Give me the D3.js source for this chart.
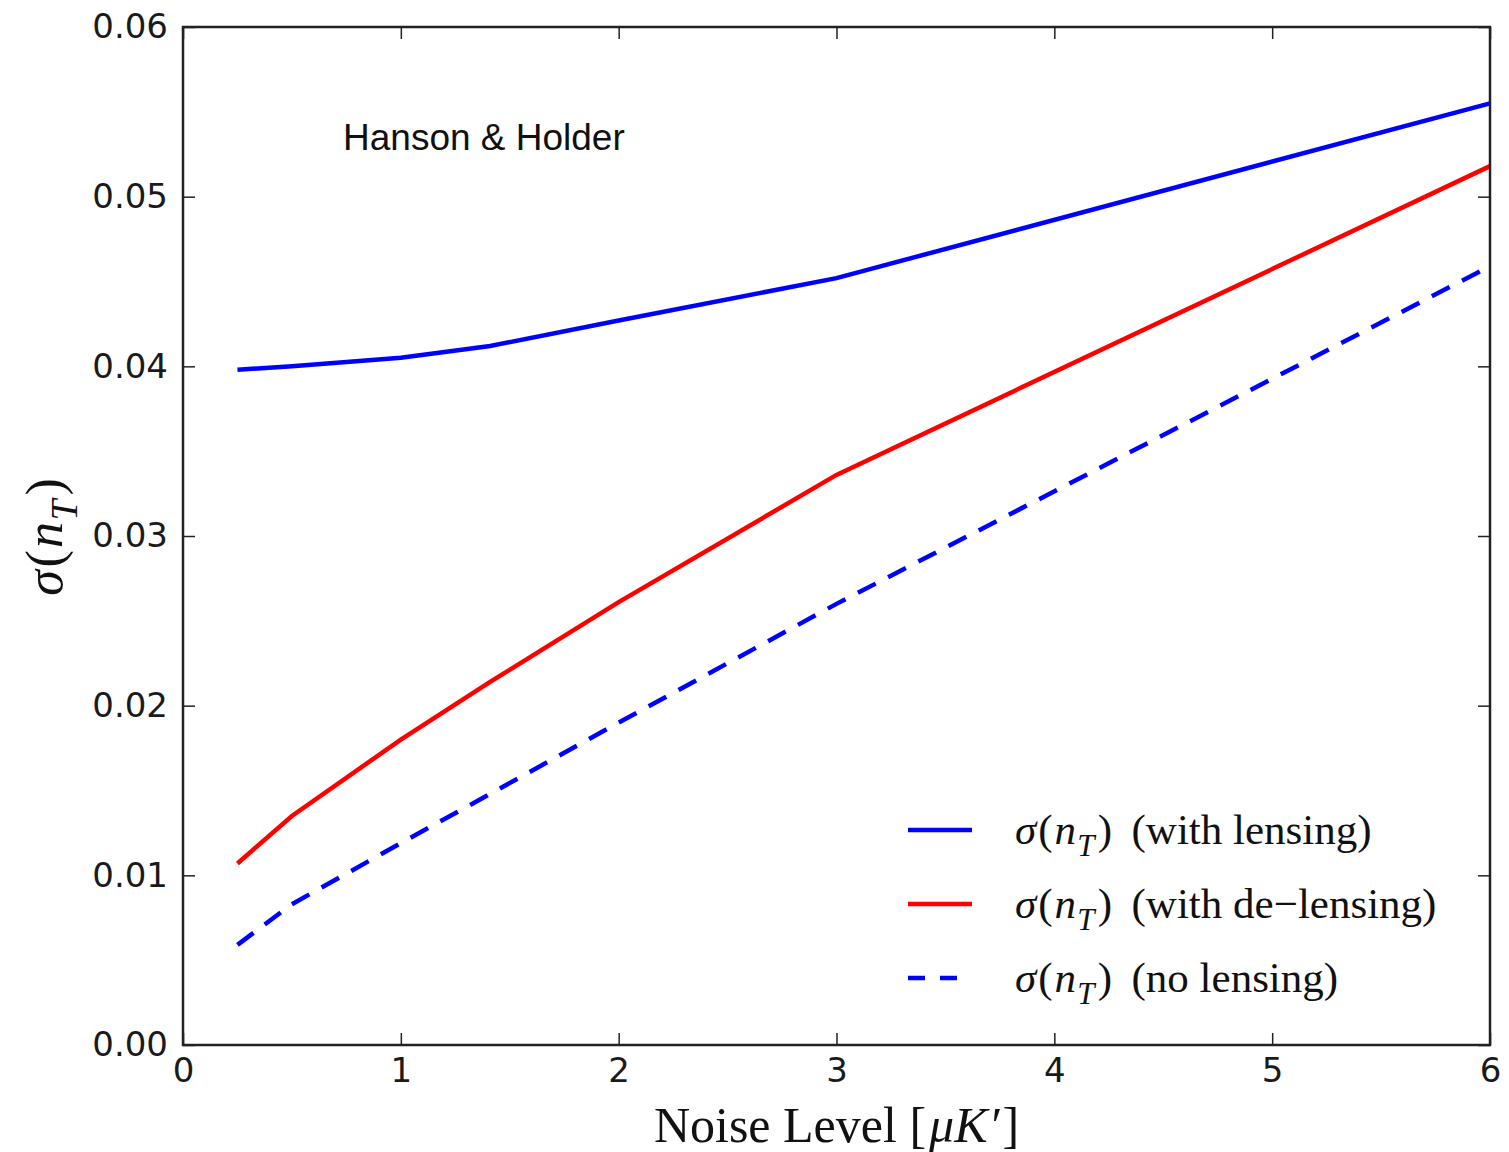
<!DOCTYPE html>
<html>
<head>
<meta charset="utf-8">
<script src="https://cdn.jsdelivr.net/npm/d3@7"></script>
<style>
  body { margin: 0; background: #fff; }
  svg { display: block; }
  .tick text { font-family: "DejaVu Sans", sans-serif; font-size: 34px; fill: #1a1a1a; }
  .tick line { stroke: #222; stroke-width: 1.5px; }
  .serif { font-family: "Liberation Serif", "Times New Roman", serif; fill: #111; }
</style>
</head>
<body>
<svg id="chart" width="1509" height="1152"></svg>
<script>
// noise level (x) and sigma(n_T)
const noise = [0.25, 0.5, 1, 1.41, 2, 3, 6];
const withLensing = [0.0398, 0.0400, 0.0405, 0.0412, 0.0427, 0.0452, 0.0555];
const deLensing = [0.0107, 0.0135, 0.0180, 0.0214, 0.0261, 0.0336, 0.0518];
const noLensing = [0.0059, 0.0083, 0.0119, 0.0148, 0.0190, 0.0260, 0.0459];

const xTicks = [0, 1, 2, 3, 4, 5, 6];
const yTicks = [0, 0.01, 0.02, 0.03, 0.04, 0.05, 0.06];

const series = [
  { name: "(with lensing)", values: withLensing, color: "#0000ff", dash: null },
  { name: "(with de\u2212lensing)", values: deLensing, color: "#ff0000", dash: null },
  { name: "(no lensing)", values: noLensing, color: "#0000ff", dash: "20,14" }
];

const margin = { left: 183, top: 27, right: 19, bottom: 107 };
const width = 1509 - margin.left - margin.right;
const height = 1152 - margin.top - margin.bottom;

const svg = d3.select("#chart");
const g = svg.append("g")
  .attr("transform", `translate(${margin.left},${margin.top})`);

const x = d3.scaleLinear().domain([0, 6]).range([0, width]);
const y = d3.scaleLinear().domain([0, 0.06]).range([height, 0]);

// axes, ticks pointing inward on all four sides
g.append("g")
  .attr("transform", `translate(0,${height})`)
  .call(d3.axisBottom(x).tickValues(xTicks).tickSize(-12).tickPadding(13).tickFormat(d3.format("d")));
g.append("g")
  .call(d3.axisLeft(y).tickValues(yTicks).tickSize(-12).tickPadding(15).tickFormat(d3.format(".2f")));
g.append("g")
  .call(d3.axisTop(x).tickValues(xTicks).tickSize(-12).tickFormat(""));
g.append("g")
  .attr("transform", `translate(${width},0)`)
  .call(d3.axisRight(y).tickValues(yTicks).tickSize(-12).tickFormat(""));
g.selectAll(".domain").remove();

// lines
const line = d3.line()
  .x((d, i) => x(noise[i]))
  .y(d => y(d));

series.forEach(s => {
  g.append("path")
    .datum(s.values)
    .attr("d", line)
    .attr("fill", "none")
    .attr("stroke", s.color)
    .attr("stroke-width", 4.5)
    .attr("stroke-dasharray", s.dash);
});

// frame
g.append("rect")
  .attr("width", width)
  .attr("height", height)
  .attr("fill", "none")
  .attr("stroke", "#222")
  .attr("stroke-width", 2.5);

// annotation
g.append("text")
  .attr("x", 343 - margin.left)
  .attr("y", 150 - margin.top)
  .attr("font-family", "'Liberation Sans', Arial, sans-serif")
  .attr("font-size", 37)
  .attr("fill", "#111")
  .text("Hanson & Holder");

// sigma(n_T) label helper
function sigmaLabel(sel, size, rest) {
  sel.append("tspan").attr("font-style", "italic").text("\u03c3");
  sel.append("tspan").attr("dx", size * 0.05).text("(");
  sel.append("tspan").attr("font-style", "italic").attr("dx", size * 0.04).text("n");
  sel.append("tspan").attr("font-style", "italic")
    .attr("font-size", size * 0.72).attr("dy", size * 0.28).attr("dx", size * 0.03).text("T");
  sel.append("tspan").attr("dy", -size * 0.28).attr("dx", size * 0.08).text(")");
  if (rest) sel.append("tspan").attr("dx", size * 0.2).text(" " + rest);
}

// legend
const legend = g.append("g");
series.forEach((s, i) => {
  const ly = 830 - margin.top + i * 74;
  legend.append("line")
    .attr("x1", 908 - margin.left).attr("x2", 972 - margin.left)
    .attr("y1", ly).attr("y2", ly)
    .attr("stroke", s.color)
    .attr("stroke-width", 4.5)
    .attr("stroke-dasharray", s.dash === null ? null : "17,15");
  const t = legend.append("text")
    .attr("class", "serif")
    .attr("x", 1015 - margin.left)
    .attr("y", ly + 14)
    .attr("font-size", 43);
  sigmaLabel(t, 43, s.name);
});

// x label
const xl = svg.append("text")
  .attr("class", "serif")
  .attr("x", margin.left + width / 2)
  .attr("y", 1142)
  .attr("text-anchor", "middle")
  .attr("font-size", 50);
xl.append("tspan").text("Noise Level [");
xl.append("tspan").attr("font-style", "italic").attr("dx", 3).text("\u03bcK");
xl.append("tspan").attr("dx", 4).text("\u2032]");

// y label
const yl = svg.append("text")
  .attr("class", "serif")
  .attr("transform", "translate(62,537) rotate(-90)")
  .attr("text-anchor", "middle")
  .attr("font-size", 52);
sigmaLabel(yl, 52, null);
</script>
</body>
</html>
